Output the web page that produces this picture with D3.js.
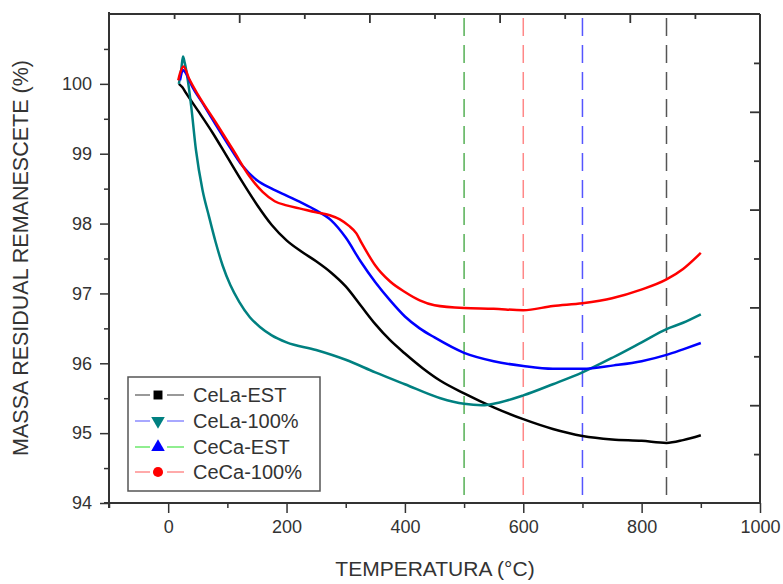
<!DOCTYPE html>
<html><head><meta charset="utf-8">
<script src="https://cdn.jsdelivr.net/npm/d3@7"></script>
<style>body{margin:0;background:#fff;}svg{display:block;font-family:Arial,"Liberation Sans",sans-serif;}</style>
</head><body>
<svg id="c" width="783" height="584"></svg>
<script>
// ---- data ----
const seriesNames = ["CeLa-EST", "CeLa-100%", "CeCa-EST", "CeCa-100%"];
const seriesColors = ["#000000", "#008080", "#0000ff", "#ff0000"];
const legendLineColors = ["#999999", "#a8a8ff", "#90ee90", "#ffaaaa"];
const markerTypes = ["square", "triangleDown", "triangleUp", "circle"];

const celaEST = [[18,100.0],[24,99.95],[30,99.87],[50,99.62],[75,99.3],[100,98.95],[125,98.6],[150,98.27],[175,97.98],[200,97.76],[225,97.6],[250,97.46],[275,97.3],[300,97.1],[325,96.83],[350,96.56],[375,96.33],[400,96.14],[430,95.93],[460,95.75],[500,95.57],[550,95.37],[600,95.2],[650,95.06],[700,94.96],[750,94.91],[800,94.89],[842,94.86],[870,94.9],[900,94.97]];
const cela100 = [[18,100.0],[22,100.2],[25,100.39],[28,100.3],[33,100.06],[39,99.67],[47,99.05],[58,98.48],[69,98.1],[80,97.74],[92,97.4],[105,97.12],[120,96.88],[138,96.66],[155,96.52],[175,96.4],[200,96.3],[250,96.19],[300,96.05],[350,95.87],[400,95.7],[460,95.5],[500,95.42],[530,95.4],[560,95.44],[600,95.54],[650,95.7],[700,95.87],[753,96.09],[800,96.3],[842,96.49],[870,96.58],[900,96.7]];
const cecaEST = [[20,100.05],[25,100.2],[30,100.15],[40,99.97],[60,99.7],[80,99.42],[100,99.15],[125,98.83],[150,98.62],[175,98.5],[200,98.4],[225,98.3],[250,98.19],[275,98.05],[300,97.8],[325,97.46],[350,97.16],[375,96.9],[400,96.67],[425,96.5],[450,96.37],[500,96.15],[550,96.03],[600,95.96],[650,95.92],[700,95.92],[753,95.97],[800,96.03],[842,96.12],[870,96.2],[900,96.29]];
const ceca100 = [[17,100.05],[20,100.15],[26,100.25],[35,100.08],[50,99.85],[81,99.44],[110,99.05],[137,98.68],[160,98.45],[180,98.32],[200,98.26],[225,98.21],[250,98.16],[273,98.12],[290,98.06],[305,97.97],[318,97.86],[327,97.72],[338,97.56],[350,97.4],[375,97.17],[400,97.02],[425,96.9],[450,96.83],[500,96.79],[550,96.78],[600,96.76],[650,96.82],[700,96.86],[750,96.93],[798,97.05],[842,97.2],[870,97.35],[900,97.58]];
const allSeries = [celaEST, cela100, cecaEST, ceca100];

const refTemps = [500, 600, 700, 842];
const refColors = ["#55b055", "#ff8888", "#5555ff", "#555555"];

const xTicks = [0, 200, 400, 600, 800, 1000];
const xMinorTicks = [-100, 100, 300, 500, 700, 900];
const yTicks = [94, 95, 96, 97, 98, 99, 100];
const yMinorTicks = [94.5, 95.5, 96.5, 97.5, 98.5, 99.5, 100.5];
const xTitle = "TEMPERATURA (°C)";
const yTitle = "MASSA RESIDUAL REMANESCETE (%)";

// ---- layout ----
const L = 109, R = 760, T = 14, B = 503;
const svg = d3.select("#c");
const x = d3.scaleLinear().domain([-100, 1000]).range([L, R]);
const y = d3.scaleLinear().domain([94, 101]).range([B, T]);
const axisColor = "#333";

// reference dashed lines
svg.append("g").selectAll("line").data(refTemps).join("line")
  .attr("x1", d => x(d)).attr("x2", d => x(d))
  .attr("y1", T + 4).attr("y2", B - 2)
  .attr("stroke", (d, i) => refColors[i]).attr("stroke-width", 1.5)
  .attr("stroke-dasharray", "18,9");

// curves
const line = d3.line().x(d => x(d[0])).y(d => y(d[1])).curve(d3.curveMonotoneX);
svg.append("g").selectAll("path").data(allSeries).join("path")
  .attr("d", line).attr("fill", "none")
  .attr("stroke", (d, i) => seriesColors[i]).attr("stroke-width", 2.5)
  .attr("stroke-linejoin", "round");

// axes
const gx = svg.append("g").attr("transform", `translate(0,${B})`)
  .call(d3.axisBottom(x).tickValues(xTicks).tickSize(10).tickPadding(7).tickFormat(d3.format("d")));
const gxm = svg.append("g").attr("transform", `translate(0,${B})`)
  .call(d3.axisBottom(x).tickValues(xMinorTicks).tickSize(5).tickFormat(""));
const gy = svg.append("g").attr("transform", `translate(${L},0)`)
  .call(d3.axisLeft(y).tickValues(yTicks).tickSize(9).tickPadding(8).tickFormat(d3.format("d")));
const gym = svg.append("g").attr("transform", `translate(${L},0)`)
  .call(d3.axisLeft(y).tickValues(yMinorTicks).tickSize(5).tickFormat(""));
[gx, gxm, gy, gym].forEach(g => {
  g.select(".domain").remove();
  g.selectAll(".tick line").attr("stroke", axisColor).attr("stroke-width", 1.5);
  g.selectAll(".tick text").attr("fill", "#333").style("font-size", "18px");
});

// top / right axes (10 divisions, inward ticks)
const topScale = d3.scaleLinear().domain([0, 10]).range([L, R]);
const rightScale = d3.scaleLinear().domain([0, 10]).range([T, B]);
const gt = svg.append("g").attr("transform", `translate(0,${T})`)
  .call(d3.axisBottom(topScale).tickValues(d3.range(1, 10)).tickSize(0).tickFormat(""));
gt.select(".domain").remove();
gt.selectAll(".tick line").attr("y2", d => d % 2 === 0 ? 9 : 5).attr("stroke", axisColor).attr("stroke-width", 1.8);
const gr = svg.append("g").attr("transform", `translate(${R},0)`)
  .call(d3.axisLeft(rightScale).tickValues(d3.range(1, 10)).tickSize(0).tickFormat(""));
gr.select(".domain").remove();
gr.selectAll(".tick line").attr("x2", d => d % 2 === 0 ? -10 : -6).attr("stroke", axisColor).attr("stroke-width", 1.8);

// frame
svg.append("line").attr("x1", L - 5).attr("x2", R).attr("y1", B).attr("y2", B).attr("stroke", axisColor).attr("stroke-width", 2);
svg.append("line").attr("x1", L).attr("x2", L).attr("y1", T - 2).attr("y2", B + 5).attr("stroke", axisColor).attr("stroke-width", 2);
svg.append("line").attr("x1", L).attr("x2", R).attr("y1", T).attr("y2", T).attr("stroke", axisColor).attr("stroke-width", 2);
svg.append("line").attr("x1", R).attr("x2", R).attr("y1", T).attr("y2", B).attr("stroke", axisColor).attr("stroke-width", 2);

// titles
svg.append("text").attr("x", 435).attr("y", 576).attr("text-anchor", "middle")
  .style("font-size", "21px").attr("fill", "#333").text(xTitle);
svg.append("text").attr("transform", `translate(28,258) rotate(-90)`).attr("text-anchor", "middle")
  .style("font-size", "21.5px").attr("fill", "#333").text(yTitle);

// legend
const lg = svg.append("g");
lg.append("rect").attr("x", 128).attr("y", 377).attr("width", 192).attr("height", 114)
  .attr("fill", "#fff").attr("stroke", "#555").attr("stroke-width", 1.5);
const rowY = [395, 421, 447, 472];
seriesNames.forEach((name, i) => {
  const yy = rowY[i];
  lg.append("line").attr("x1", 135).attr("x2", 150).attr("y1", yy).attr("y2", yy).attr("stroke", legendLineColors[i]).attr("stroke-width", 2);
  lg.append("line").attr("x1", 167).attr("x2", 184).attr("y1", yy).attr("y2", yy).attr("stroke", legendLineColors[i]).attr("stroke-width", 2);
  const sym = {square: d3.symbolSquare, triangleUp: d3.symbolTriangle, triangleDown: d3.symbolTriangle, circle: d3.symbolCircle}[markerTypes[i]];
  const rot = markerTypes[i] === "triangleDown" ? 180 : 0;
  lg.append("path").attr("d", d3.symbol().type(sym).size(80))
    .attr("transform", `translate(158,${yy}) rotate(${rot})`).attr("fill", seriesColors[i]);
  lg.append("text").attr("x", 193).attr("y", yy + 7).style("font-size", "20px").attr("fill", "#333").text(name);
});
</script>
</body></html>
